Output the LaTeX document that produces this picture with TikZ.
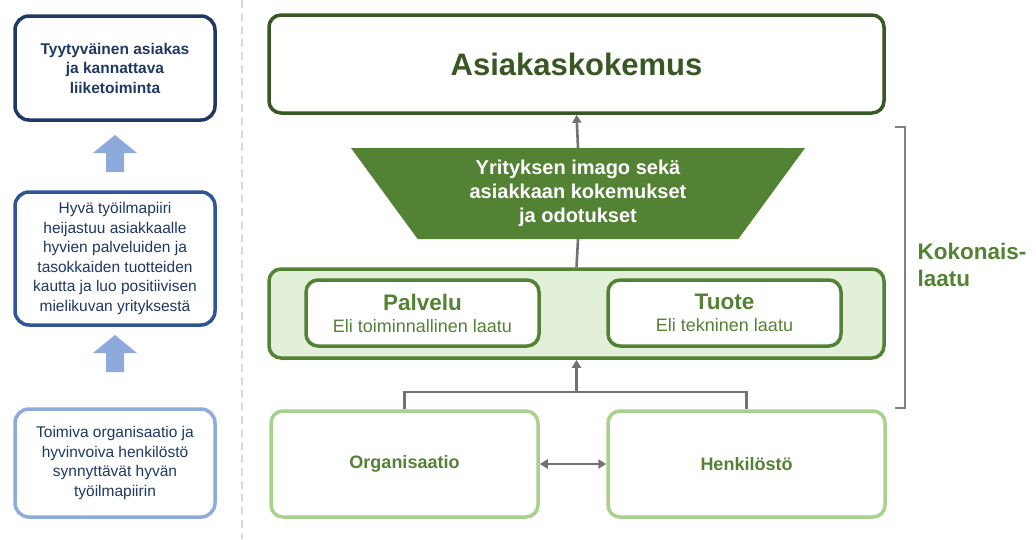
\documentclass[tikz,border=0pt]{standalone}
\usepackage{fontspec}
\setmainfont{Liberation Sans}
\usetikzlibrary{arrows.meta,calc,shapes.geometric,positioning}
\definecolor{navy}{HTML}{1F3864}
\definecolor{midblue}{HTML}{2F5597}
\definecolor{paleblue}{HTML}{8FAADC}
\definecolor{arrowblue}{HTML}{8EA9DB}
\definecolor{darkgreen}{HTML}{385723}
\definecolor{leafgreen}{HTML}{548235}
\definecolor{mintfill}{HTML}{E2F0D9}
\definecolor{palegreen}{HTML}{A9D18E}
\definecolor{connGray}{HTML}{767171}
\definecolor{sepGray}{HTML}{D9D9D9}
\tikzset{
	left box/.style={draw, fill=white, rounded corners=14pt, line width=3.5pt, minimum width=200pt, align=center, text=navy, font=\fontsize{15.5}{19.5}\selectfont},
	green box/.style={draw=leafgreen, fill=white, rounded corners=12pt, line width=3.5pt, align=center, text=leafgreen},
	conn/.style={draw=connGray, line width=2.6pt, arrows={-Triangle[length=8pt, width=9pt]}},
	up block/.style={fill=arrowblue}
}

\begin{document}
\begin{tikzpicture}[x=1pt, y=-1pt]
	\useasboundingbox (0,0) rectangle (1036,539);
	
	\draw[sepGray, line width=2.5pt, dash pattern=on 8pt off 5pt] (242,0) -- (242,539);
	
	\node[left box, draw=navy, minimum height=104pt, font=\fontsize{15.5}{19.5}\selectfont\bfseries] (tyyt) at (115,68) {Tyytyväinen asiakas\\ja kannattava\\liiketoiminta};
	\node[left box, draw=midblue, minimum height=133pt] (hyva) at (115,258.5) {Hyvä työilmapiiri\\heijastuu asiakkaalle\\hyvien palveluiden ja\\tasokkaiden tuotteiden\\kautta ja luo positiivisen\\mielikuvan yrityksestä};
	\node[left box, draw=paleblue, minimum height=108pt] (toimiva) at (115,463) {Toimiva organisaatio ja\\hyvinvoiva henkilöstö\\synnyttävät hyvän\\työilmapiirin};
	
	\foreach \y in {153.5, 353.5} {
		\fill[up block] (115,\y-18.5) -- ++(22,18) -- ++(-13,0) -- ++(0,19) -- ++(-18,0) -- ++(0,-19) -- ++(-13,0) -- cycle;
	}
	
	\node[green box, draw=darkgreen, text=darkgreen, minimum width=615pt, minimum height=98pt, font=\fontsize{31}{36}\selectfont\bfseries] (asiak) at (576.5,64) {Asiakaskokemus};
	
	\node[trapezium, trapezium left angle=45, trapezium right angle=45, shape border rotate=180, trapezium stretches body, minimum width=454pt, minimum height=91pt, inner sep=0pt, fill=leafgreen, text=white, align=center, font=\fontsize{20}{24}\selectfont\bfseries] (imago) at (578,193.5) {Yrityksen imago sekä\\asiakkaan kokemukset\\ja odotukset};
	
	\node[green box, fill=mintfill, minimum width=615pt, minimum height=89pt] (koko) at (576.5,313.5) {};
	\node[green box, minimum width=233pt, minimum height=66pt, font=\fontsize{18}{21}\selectfont] (palvelu) at (422.5,313) {{\fontsize{22.5}{21}\selectfont\bfseries Palvelu}\\[1pt]Eli toiminnallinen laatu};
	\node[green box, minimum width=233pt, minimum height=66pt, font=\fontsize{18}{21}\selectfont] (tuote) at (724.5,313) {{\fontsize{22.5}{21}\selectfont\bfseries Tuote}\\[1pt]Eli tekninen laatu};
	
	\node[green box, draw=palegreen, minimum width=267pt, minimum height=106pt, font=\fontsize{18}{21}\selectfont\bfseries] (org) at (404.5,464) {Organisaatio};
	\node[green box, draw=palegreen, minimum width=277pt, minimum height=106pt, font=\fontsize{18}{21}\selectfont\bfseries] (henk) at (746.5,464) {Henkilöstö};
	
	\draw[conn] (imago.north) -- (asiak.south);
	\draw[conn, arrows=-] (imago.south) -- (koko.north);
	\coordinate (split) at (576.5,392);
	\draw[conn, arrows=-] (org.north) |- (split) -| (henk.north);
	\draw[conn] (split) -- (koko.south);
	\draw[conn, arrows={Triangle[length=8pt, width=9pt]-Triangle[length=8pt, width=9pt]}] (org) -- (henk);
	
	\draw[gray, line width=2pt] (895,127) -- (905,127) -- (905,408) -- (895,408);
	\node[anchor=west, align=left, text=leafgreen, font=\fontsize{22.5}{27}\selectfont\bfseries] (kok) at (914,265) {Kokonais-\\laatu};
\end{tikzpicture}
\end{document}
